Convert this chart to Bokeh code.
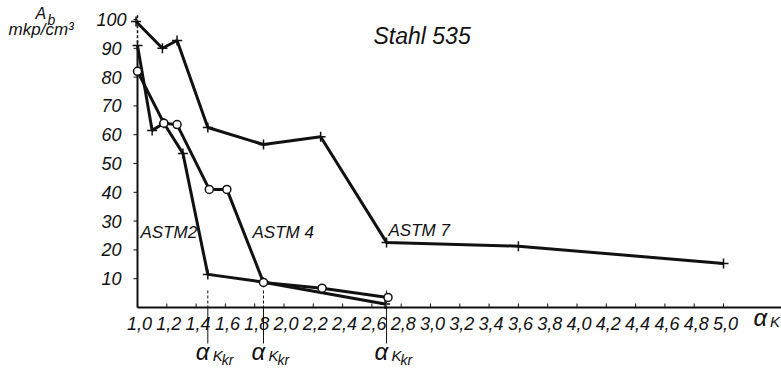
from bokeh.plotting import figure
from bokeh.models import Range1d
from bokeh.core.properties import value
from bokeh.embed import file_html
from bokeh.resources import INLINE

# Impact work A_b (mkp/cm^3) of Stahl 535 versus notch factor alpha_K
astm7_x = [0.99, 1.17, 1.27, 1.48, 1.86, 2.25, 2.70, 3.60, 5.00]
astm7_y = [99.3, 90.0, 92.7, 62.5, 56.6, 59.3, 22.6, 21.3, 15.3]

astm2_x = [1.00, 1.10, 1.18, 1.31, 1.48, 1.86, 2.69]
astm2_y = [91.0, 61.5, 64.0, 53.5, 11.5, 8.8, 1.2]

astm4_x = [1.00, 1.18, 1.27, 1.49, 1.61, 1.86, 2.26, 2.71]
astm4_y = [82.0, 64.0, 63.5, 41.0, 41.0, 8.7, 6.7, 3.5]

# critical notch factors alpha_Kkr
alpha_kkr = [1.48, 1.86, 2.70]

x_ticks = [1.0, 1.2, 1.4, 1.6, 1.8, 2.0, 2.2, 2.4, 2.6, 2.8, 3.0, 3.2,
           3.4, 3.6, 3.8, 4.0, 4.2, 4.4, 4.6, 4.8, 5.0]
x_tick_labels = ["1,0", "1,2", "1,4", "1,6", "1,8", "2,0", "2,2", "2,4", "2,6",
                 "2,8", "3,0", "3,2", "3,4", "3,6", "3,8", "4,0", "4,2", "4,4",
                 "4,6", "4,8", "5,0"]
y_ticks = [10, 20, 30, 40, 50, 60, 70, 80, 90, 100]
y_tick_labels = [str(v) for v in y_ticks]

FONT = value("Liberation Sans")
INK = "#111111"

W, H = 781, 370
PX_X = 146.5          # pixels per unit alpha_K
PX_Y = 2.88           # pixels per mkp/cm^3
X0_PX, Y0_PX = 137, 307   # where (1.0, 0) sits on the canvas

x_start = 1.0 - X0_PX / PX_X
x_end = x_start + W / PX_X
y_end = Y0_PX / PX_Y
y_start = y_end - H / PX_Y

p = figure(width=W, height=H, output_backend="svg", toolbar_location=None,
           x_range=Range1d(x_start, x_end), y_range=Range1d(y_start, y_end),
           x_axis_location=None, y_axis_location=None,
           min_border=0)
p.outline_line_color = None
p.grid.visible = False
p.background_fill_color = "white"
p.border_fill_color = "white"

dx = 1.0 / PX_X   # one pixel in x data units
dy = 1.0 / PX_Y   # one pixel in y data units
x_org, y_org = x_ticks[0], 0.0

# axis lines crossing at (1.0, 0); the ordinate runs on dashed above 90
p.segment(x0=[x_org], y0=[y_org], x1=[x_end], y1=[y_org], line_color=INK, line_width=2)
p.segment(x0=[x_org], y0=[y_org], x1=[x_org], y1=[y_ticks[-2]], line_color=INK, line_width=2)
p.segment(x0=[x_org], y0=[y_ticks[-2]], x1=[x_org], y1=[y_ticks[-1] + 5 * dy],
          line_color=INK, line_width=1.5, line_dash="3 2")

# tick marks
p.segment(x0=x_ticks, y0=[y_org] * len(x_ticks), x1=x_ticks,
          y1=[y_org + 4 * dy] * len(x_ticks), line_color=INK, line_width=1)
p.segment(x0=[x_org - 4 * dx] * len(y_ticks), y0=y_ticks, x1=[x_org] * len(y_ticks),
          y1=y_ticks, line_color=INK, line_width=1)

# tick labels
p.text(x=x_ticks, y=[y_org - 15.5 * dy] * len(x_ticks), text=x_tick_labels,
       x_offset=2, text_align="center", text_baseline="middle",
       text_font=FONT, text_font_style="italic", text_font_size="18px", text_color=INK)
p.text(x=[x_org - 26 * dx] * len(y_ticks), y=y_ticks, text=y_tick_labels,
       text_align="center", text_baseline="middle",
       text_font=FONT, text_font_style="italic", text_font_size="18px", text_color=INK)

# critical notch factor markers
n = len(alpha_kkr)
p.segment(x0=alpha_kkr, y0=[y_org + 17 * dy] * n, x1=alpha_kkr, y1=[y_org] * n,
          line_color=INK, line_width=1, line_dash="3 2")
p.segment(x0=alpha_kkr, y0=[y_org] * n, x1=alpha_kkr, y1=[y_org - 36 * dy] * n,
          line_color=INK, line_width=1)
p.text(x=alpha_kkr, y=[y_org - 44 * dy] * n, text=["α"] * n, x_offset=-12,
       text_baseline="middle", text_font=FONT, text_font_style="italic",
       text_font_size="24px", text_color=INK)
p.text(x=alpha_kkr, y=[y_org - 48 * dy] * n, text=["K"] * n, x_offset=5,
       text_baseline="middle", text_font=FONT, text_font_style="italic",
       text_font_size="15px", text_color=INK)
p.text(x=alpha_kkr, y=[y_org - 52 * dy] * n, text=["kr"] * n, x_offset=14,
       text_baseline="middle", text_font=FONT, text_font_style="italic",
       text_font_size="14px", text_color=INK)

# curves
for xs, ys in ((astm7_x, astm7_y), (astm2_x, astm2_y), (astm4_x, astm4_y)):
    p.line(xs, ys, line_color=INK, line_width=3)

p.scatter(astm7_x, astm7_y, marker="cross", size=10, line_color=INK, line_width=1.5)
p.scatter(astm2_x, astm2_y, marker="cross", size=10, line_color=INK, line_width=1.5)
p.scatter(astm4_x, astm4_y, marker="circle", size=8, line_color=INK,
          fill_color="white", line_width=1.5)


def note(x, y, text, size="18px"):
    p.text(x=[x], y=[y], text=[text], text_baseline="middle",
           text_font=FONT, text_font_style="italic", text_font_size=size,
           text_color=INK)


note(2.611, 94.4, "Stahl 535", "23px")
note(1.020, 26.0, "ASTM2", "17px")
note(1.785, 26.2, "ASTM 4", "17px")
note(2.713, 26.7, "ASTM 7", "17px")

# y axis title
note(0.304, 102.2, "A", "16px")
note(0.386, 99.9, "b", "14px")
note(0.120, 96.6, "mkp/cm³", "17px")

# x axis title
note(5.205, -3.3, "α", "24px")
note(5.318, -4.9, "K", "15px")

open("out.html", "w").write(file_html(p, INLINE))
